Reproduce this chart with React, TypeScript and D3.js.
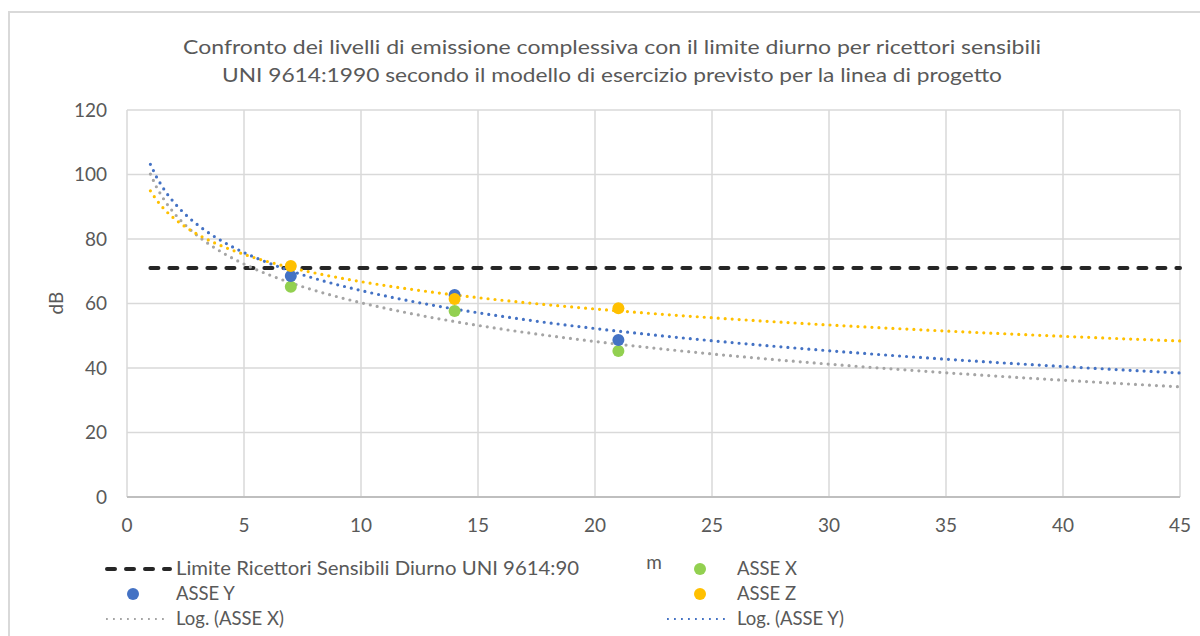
import React from 'react';
import * as d3 from 'd3';

// ---- data ----
const distances: number[] = [7, 14, 21];
const asseX: number[] = [65.2, 57.7, 45.3];
const asseY: number[] = [68.5, 62.6, 48.7];
const asseZ: number[] = [71.6, 61.4, 58.5];
const limitX: number[] = [1, 45];
const limitY: number[] = [71, 71];
const xTicks: number[] = [0, 5, 10, 15, 20, 25, 30, 35, 40, 45];
const yTicks: number[] = [0, 20, 40, 60, 80, 100, 120];
const titleLines: string[] = [
  'Confronto dei livelli di emissione complessiva con il limite diurno per ricettori sensibili',
  'UNI 9614:1990 secondo il modello di esercizio previsto per la linea di progetto',
];
const trendRange: number[] = [1, 45];

const W = 1200;
const H = 636;
const FONT = 'Lato, "Open Sans", sans-serif';
const TXT = '#595959';
const C_GREEN = '#92D050';
const C_BLUE = '#4472C4';
const C_YELLOW = '#FFC000';
const C_GRAY = '#A5A5A5';

function fitLog(xs: number[], ys: number[]) {
  const lx = xs.map(Math.log);
  const mx = d3.mean(lx) as number;
  const my = d3.mean(ys) as number;
  let sxy = 0, sxx = 0;
  lx.forEach((v, i) => { sxy += (v - mx) * (ys[i] - my); sxx += (v - mx) ** 2; });
  const a = sxy / sxx;
  const b = my - a * mx;
  return (x: number) => a * Math.log(x) + b;
}

export default function App() {
  const x = d3.scaleLinear().domain([0, 45]).range([127, 1180]);
  const y = d3.scaleLinear().domain([0, 120]).range([497, 110]);
  const line = d3.line<[number, number]>().x(d => x(d[0])).y(d => y(d[1]));
  const samples = d3.range(trendRange[0], trendRange[1] + 0.001, 0.25);
  const trend = (ys: number[]) => {
    const f = fitLog(distances, ys);
    return line(samples.map(s => [s, f(s)] as [number, number])) as string;
  };
  const dot = { strokeWidth: 3.2, strokeDasharray: '0 7', strokeLinecap: 'round' as const, fill: 'none' };
  const series = [
    { name: 'ASSE X', vals: asseX, color: C_GREEN },
    { name: 'ASSE Y', vals: asseY, color: C_BLUE },
    { name: 'ASSE Z', vals: asseZ, color: C_YELLOW },
  ];
  const trends = [
    { vals: asseX, color: C_GRAY },
    { vals: asseZ, color: C_YELLOW },
    { vals: asseY, color: C_BLUE },
  ];

  return (
    <svg width={W} height={H} style={{ position: 'absolute', left: 0, top: 0, background: '#fff' }} fontFamily={FONT}>
      <rect x={0} y={0} width={W} height={H} fill="#fff" />
      <rect x={9} y={12} width={1250} height={700} fill="none" stroke="#D9D9D9" strokeWidth={2} />
      {/* title */}
      {titleLines.map((t, i) => (
        <text key={i} x={612} y={54 + i * 28} textAnchor="middle" fontSize={20} fill={TXT}
          textLength={i === 0 ? 858 : 780} lengthAdjust="spacingAndGlyphs">{t}</text>
      ))}
      {/* gridlines */}
      {xTicks.map(t => (
        <line key={'gx' + t} x1={x(t)} x2={x(t)} y1={y(120)} y2={y(0)} stroke="#D9D9D9" strokeWidth={1.5} />
      ))}
      {yTicks.map(t => (
        <line key={'gy' + t} x1={x(0)} x2={x(45)} y1={y(t)} y2={y(t)} stroke={t === 0 ? '#BFBFBF' : '#D9D9D9'} strokeWidth={t === 0 ? 2 : 1.5} />
      ))}
      {/* tick labels */}
      {yTicks.map(t => (
        <text key={'ly' + t} x={107} y={y(t) + 6.5} textAnchor="end" fontSize={19} fill={TXT}>{t}</text>
      ))}
      {xTicks.map(t => (
        <text key={'lx' + t} x={x(t)} y={532} textAnchor="middle" fontSize={19} fill={TXT}>{t}</text>
      ))}
      {/* axis titles */}
      <text transform="translate(63,303) rotate(-90)" textAnchor="middle" fontSize={19} fill={TXT}>dB</text>
      <text x={654} y={569} textAnchor="middle" fontSize={19} fill={TXT}>m</text>
      {/* limit */}
      <path d={line(limitX.map((v, i) => [v, limitY[i]] as [number, number])) as string}
        stroke="#262626" strokeWidth={4} strokeDasharray="8 11" strokeLinecap="round" fill="none" />
      {/* trendlines */}
      {trends.map((t, i) => (
        <path key={'t' + i} d={trend(t.vals)} stroke={t.color} {...dot} />
      ))}
      {/* points */}
      {series.map(s => distances.map((d, i) => (
        <circle key={s.name + i} cx={x(d)} cy={y(s.vals[i])} r={6} fill={s.color} />
      )))}
      {/* legend */}
      <g fontSize={18.5} fill={TXT}>
        <line x1={107} x2={170} y1={569} y2={569} stroke="#262626" strokeWidth={4} strokeDasharray="8 11" strokeLinecap="round" />
        <text x={176} y={575} textLength={403} lengthAdjust="spacingAndGlyphs">Limite Ricettori Sensibili Diurno UNI 9614:90</text>
        <circle cx={700} cy={569} r={6} fill={C_GREEN} />
        <text x={737} y={575}>ASSE X</text>
        <circle cx={133} cy={594} r={6} fill={C_BLUE} />
        <text x={176} y={600}>ASSE Y</text>
        <circle cx={700} cy={594} r={6} fill={C_YELLOW} />
        <text x={737} y={600}>ASSE Z</text>
        <line x1={106} x2={168} y1={619} y2={619} stroke={C_GRAY} strokeWidth={1.8} strokeDasharray="1.8 5.2" />
        <text x={176} y={625}>Log. (ASSE X)</text>
        <line x1={667} x2={728} y1={619} y2={619} stroke={C_BLUE} strokeWidth={1.8} strokeDasharray="1.8 5.2" />
        <text x={737} y={625}>Log. (ASSE Y)</text>
      </g>
    </svg>
  );
}
